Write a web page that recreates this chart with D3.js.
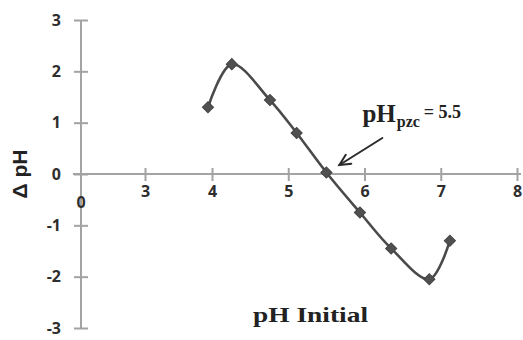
<!DOCTYPE html>
<html>
<head>
<meta charset="utf-8">
<script src="https://cdn.jsdelivr.net/npm/d3@7"></script>
<style>
  html, body { margin: 0; padding: 0; background: #fff; }
  svg { display: block; }
</style>
</head>
<body>
<svg id="chart" width="523" height="340"></svg>
<script>
// Point of zero charge titration: initial pH vs change in pH
const phInitial = [3.94, 4.26, 4.76, 5.11, 5.50, 5.94, 6.35, 6.85, 7.12];
const deltaPH   = [1.30, 2.14, 1.44, 0.80, 0.03, -0.75, -1.45, -2.05, -1.30];
const xTicks = [3, 4, 5, 6, 7, 8];
const yTicks = [-3, -2, -1, 0, 1, 2, 3];
const pzc = 5.5;

const svg = d3.select("#chart");

// x axis is compressed between 0 and 4, then uniform from 4 to 8
const x = d3.scaleLinear().domain([0, 3, 4, 8]).range([81, 145, 212, 517]);
const y = d3.scaleLinear().domain([-3, 3]).range([328, 20]);

const axisColor = "#a3a3a3";
const labelColor = "#2e2e2e";
const tickFont = "'Open Sans', 'DejaVu Sans', sans-serif";
const tickSize = "16px";

// y axis
const yAxis = svg.append("g")
  .attr("transform", `translate(${x(0)},0)`)
  .call(d3.axisLeft(y).tickValues(yTicks).tickSize(0).tickPadding(20)
        .tickFormat(d => String(d)));
yAxis.select(".domain").remove();
yAxis.append("line")
  .attr("y1", y(3)).attr("y2", y(-3))
  .attr("stroke", axisColor).attr("stroke-width", 2);
yAxis.selectAll(".tick").append("line")
  .attr("x1", -7).attr("x2", 7)
  .attr("stroke", axisColor).attr("stroke-width", 2);
yAxis.selectAll(".tick text")
  .attr("fill", labelColor)
  .style("font-family", tickFont).style("font-weight", "bold").style("font-size", tickSize);

// x axis through y = 0
const xAxis = svg.append("g")
  .attr("transform", `translate(0,${y(0)})`)
  .call(d3.axisBottom(x).tickValues(xTicks).tickSize(0).tickPadding(12)
        .tickFormat(d => String(d)));
xAxis.select(".domain").remove();
xAxis.insert("line", ":first-child")
  .attr("x1", x(0) - 8).attr("x2", x(8) + 4)
  .attr("stroke", axisColor).attr("stroke-width", 2);
xAxis.selectAll(".tick").append("line")
  .attr("y1", -6).attr("y2", 7)
  .attr("stroke", axisColor).attr("stroke-width", 2);
xAxis.selectAll(".tick text")
  .attr("fill", labelColor)
  .style("font-family", tickFont).style("font-weight", "bold").style("font-size", tickSize);

// origin label sits just below the axes crossing
svg.append("text")
  .attr("x", x(0)).attr("y", y(0) + 34)
  .attr("text-anchor", "middle")
  .attr("fill", labelColor)
  .style("font-family", tickFont).style("font-weight", "bold").style("font-size", tickSize)
  .text("0");

// smoothed curve
const pts = phInitial.map((v, i) => [v, deltaPH[i]]);
const line = d3.line()
  .x(d => x(d[0])).y(d => y(d[1]))
  .curve(d3.curveCatmullRom.alpha(0.5));
svg.append("path")
  .datum(pts)
  .attr("d", line)
  .attr("fill", "none")
  .attr("stroke", "#4a4a4a")
  .attr("stroke-width", 2.6);

// diamond markers
svg.selectAll(".marker")
  .data(pts)
  .join("path")
  .attr("class", "marker")
  .attr("d", d3.symbol().type(d3.symbolSquare).size(62))
  .attr("transform", d => `translate(${x(d[0])},${y(d[1])}) rotate(45)`)
  .attr("fill", "#505050")
  .attr("stroke", "#444")
  .attr("stroke-width", 1);

// axis titles
svg.append("text")
  .attr("transform", `translate(27,${y(0)}) rotate(-90)`)
  .attr("text-anchor", "middle")
  .attr("fill", "#222")
  .style("font-family", "'Liberation Sans', Arial, sans-serif")
  .style("font-weight", "bold").style("font-size", "21px")
  .text("Δ pH");

svg.append("text")
  .attr("x", 253).attr("y", 322)
  .attr("textLength", 115).attr("lengthAdjust", "spacingAndGlyphs")
  .attr("fill", "#222")
  .style("font-family", "'Liberation Serif', 'Times New Roman', serif")
  .style("font-weight", "bold").style("font-size", "22px")
  .text("pH Initial");

// pH_pzc annotation with arrow pointing at the zero crossing
const tipX = x(pzc) + 13, tipY = y(0) - 9;
const tailX = tipX + 43, tailY = tipY - 27;
const ann = svg.append("g").attr("fill", "#222")
  .style("font-family", "'Liberation Serif', 'Times New Roman', serif")
  .style("font-weight", "bold");
const t = ann.append("text").attr("x", tipX + 23).attr("y", tipY - 43);
t.append("tspan").style("font-size", "25px").text("pH");
t.append("tspan").attr("dy", 5).attr("dx", 1).style("font-size", "16px").text("pzc");
t.append("tspan").attr("dy", -9).attr("dx", 4).style("font-size", "18px").text("= " + pzc);

const ang = Math.atan2(tailY - tipY, tailX - tipX);
const head = 12, spread = 0.45;
const arrow = svg.append("g").attr("stroke", "#2a2a2a").attr("stroke-width", 2)
  .attr("fill", "none").attr("stroke-linecap", "round");
arrow.append("line")
  .attr("x1", tailX).attr("y1", tailY).attr("x2", tipX).attr("y2", tipY);
arrow.append("path")
  .attr("d", `M${tipX + head * Math.cos(ang - spread)},${tipY + head * Math.sin(ang - spread)}
              L${tipX},${tipY}
              L${tipX + head * Math.cos(ang + spread)},${tipY + head * Math.sin(ang + spread)}`);
</script>
</body>
</html>
